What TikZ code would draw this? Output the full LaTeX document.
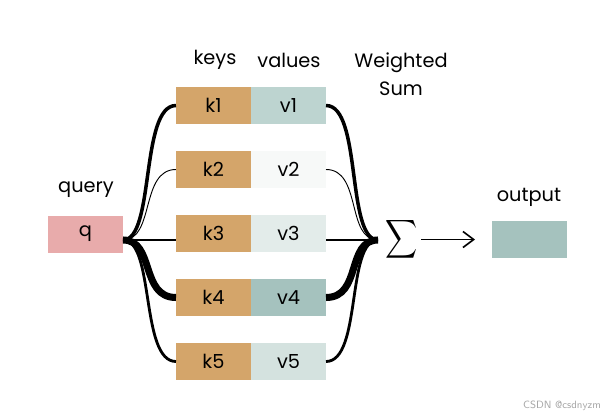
\documentclass[tikz,border=0pt]{standalone}
\usepackage{fontspec}
\setmainfont{Poppins}
\usetikzlibrary{positioning,arrows.meta}
\definecolor{keytan}{HTML}{D4A56A}
\definecolor{qpink}{HTML}{E8ABAB}
\definecolor{vone}{HTML}{BDD4D0}
\definecolor{vtwo}{HTML}{F7F9F8}
\definecolor{vthree}{HTML}{E3ECEA}
\definecolor{vfour}{HTML}{A5C2BE}
\definecolor{vfive}{HTML}{D4E2DF}
\definecolor{outteal}{HTML}{A5C2BE}
\tikzset{
	box/.style={minimum width=2.25cm,minimum height=1.11cm,inner sep=0pt,outer sep=0pt,font=\fontsize{16.5}{18}\selectfont},
	kbox/.style={box,fill=keytan},
	lbl/.style={font=\fontsize{16.5}{24}\selectfont,align=center},
	wthin/.style={line width=0.8pt},
	wmid/.style={line width=2pt},
	wbold/.style={line width=2.4pt},
	wheavy/.style={line width=3pt},
	wmax/.style={line width=6pt},
}
\begin{document}
\begin{tikzpicture}[x=0.03cm,y=-0.03cm]
		\useasboundingbox (0,0) rectangle (611,417);

		\node[box,fill=qpink] (q) at (85.5,234) {q};
		\node[lbl] (qlbl) at (86,190) {query};

		\node[kbox] (k1) at (213.5,105.5) {k1};
		\node[kbox] (k2) at (213.5,169.5) {k2};
		\node[kbox] (k3) at (213.5,233.5) {k3};
		\node[kbox] (k4) at (213.5,297.5) {k4};
		\node[kbox] (k5) at (213.5,361.5) {k5};

		\node[box,fill=vone,  right=0pt of k1] (v1) {v1};
		\node[box,fill=vtwo,  right=0pt of k2] (v2) {v2};
		\node[box,fill=vthree,right=0pt of k3] (v3) {v3};
		\node[box,fill=vfour, right=0pt of k4] (v4) {v4};
		\node[box,fill=vfive, right=0pt of k5] (v5) {v5};

		\node[lbl] (keys) at (215,60) {keys};
		\node[lbl] (vals) at (289,60) {values};
		\node[lbl] (wsum) at (401,74) {Weighted\\Sum};

		\node[inner sep=0pt,outer sep=0pt] (sum) at (402,239.5) {\scalebox{1.9}[2.3]{$\displaystyle\sum$}};
		\node[box,fill=outteal] (out) at (529.5,239.5) {};
		\node[lbl] (olbl) at (529,197) {output};

		\coordinate (sj) at (378,240);
		\coordinate (qj) at (q.east |- sj);

		\draw[wheavy] (qj) .. controls +(32,0) and +(-36,0) .. (k1.west);
		\draw[wthin]  (qj) .. controls +(32,0) and +(-36,0) .. (k2.west);
		\draw[wmid]   (qj) -- (k3.west |- qj);
		\draw[wmax]   (qj) .. controls +(32,0) and +(-36,0) .. (k4.west);
		\draw[wbold]  (qj) .. controls +(32,0) and +(-36,0) .. (k5.west);

		\draw[wheavy] (v1.east) .. controls +(36,0) and +(-32,0) .. (sj);
		\draw[wthin]  (v2.east) .. controls +(36,0) and +(-32,0) .. (sj);
		\draw[wmid]   (v3.east |- sj) -- (sj);
		\draw[wmax]   (v4.east) .. controls +(36,0) and +(-32,0) .. (sj);
		\draw[wbold]  (v5.east) .. controls +(36,0) and +(-32,0) .. (sj);

		\draw[line width=1.4pt,-{Straight Barb[length=3.2mm,width=4.8mm]},shorten <=0.1cm,shorten >=0.51cm] (sum.east |- out) -- (out.west);

		\node[font=\fontsize{9}{10}\selectfont\sffamily,text=black!35] (mark) at (562,406) {CSDN @csdnyzm};
	\end{tikzpicture}
\end{document}
